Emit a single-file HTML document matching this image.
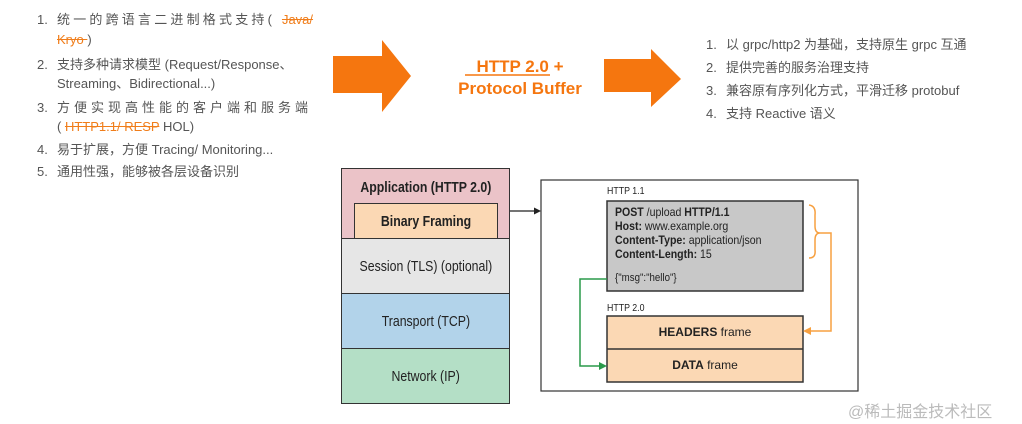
<!DOCTYPE html><html><head><meta charset="utf-8"><style>
body{margin:0;width:1022px;height:424px;background:#fff;position:relative;overflow:hidden;font-family:"Liberation Sans","Noto Sans CJK SC",sans-serif}
.t{position:absolute;font-size:13px;color:#555;white-space:nowrap;line-height:16px}
.o{color:#f07d1a;text-decoration:line-through}
.n{position:absolute;font-size:13px;color:#555}
.l{position:absolute;left:341px;width:169px;border:1.5px solid #333;box-sizing:border-box;display:flex;align-items:center;justify-content:center;font-size:15px;color:#222;white-space:nowrap}
.l span{display:inline-block;transform:scaleX(0.82)}
.s{position:absolute;color:#222;white-space:nowrap;transform-origin:0 0;transform:scaleX(0.88)}
</style></head><body>
<div class="n" style="left:37px;top:12px">1.</div><div class="t" style="left:57px;top:12px;letter-spacing:3.2px">统一的跨语言二进制格式支持( <span class="o" style="letter-spacing:0">Java/</span></div>
<div class="t" style="left:57px;top:32px"><span class="o">Kryo </span>)</div>
<div class="n" style="left:37px;top:57px">2.</div><div class="t" style="left:57px;top:57px">支持多种请求模型 (Request/Response、</div>
<div class="t" style="left:57px;top:76px">Streaming、Bidirectional...)</div>
<div class="n" style="left:37px;top:100px">3.</div><div class="t" style="left:57px;top:100px;letter-spacing:4px">方便实现高性能的客户端和服务端</div>
<div class="t" style="left:57px;top:119px">( <span class="o">HTTP1.1/ RESP</span> HOL)</div>
<div class="n" style="left:37px;top:142px">4.</div><div class="t" style="left:57px;top:142px">易于扩展，方便 Tracing/ Monitoring...</div>
<div class="n" style="left:37px;top:164px">5.</div><div class="t" style="left:57px;top:164px">通用性强，能够被各层设备识别</div>

<svg style="position:absolute;left:0;top:0" width="1022" height="424">
<polygon points="333,56 382,56 382,40 411,76 382,112 382,93 333,93" fill="#f5760f"/>
<polygon points="604,59 651,59 651,49 681,79 651,107 651,92 604,92" fill="#f5760f"/>
<line x1="465" y1="75" x2="550" y2="75" stroke="#f5760f" stroke-width="1.5"/>
<rect x="541" y="180" width="317" height="211" fill="none" stroke="#333" stroke-width="1.2"/>
<line x1="510" y1="211" x2="535" y2="211" stroke="#222" stroke-width="1.2"/>
<polygon points="541,211 534,207.5 534,214.5" fill="#222"/>
<rect x="607" y="201" width="196" height="90" fill="#c8c8c8" stroke="#333" stroke-width="1.5"/>
<rect x="607" y="316" width="196" height="66" fill="#fbd8b4" stroke="#333" stroke-width="1.5"/>
<line x1="607" y1="349" x2="803" y2="349" stroke="#333" stroke-width="1.5"/>
<path d="M809,205 Q816,206 815,215 L815,226 Q815,233 820,233 Q815,233 815,240 L815,250 Q816,258 809,258" fill="none" stroke="#f7a040" stroke-width="1.5"/>
<polyline points="820,233 831,233 831,331 810,331" fill="none" stroke="#f7a040" stroke-width="1.5"/>
<polygon points="803,331 811,327 811,335" fill="#f7a040"/>
<polyline points="607,279 580,279 580,366 600,366" fill="none" stroke="#2a9a4a" stroke-width="1.5"/>
<polygon points="607,366 599,362 599,370" fill="#2a9a4a"/>
</svg>
<div style="position:absolute;left:440px;top:56px;width:160px;text-align:center;color:#f5760f;font-weight:bold;font-size:17px;line-height:22px">HTTP 2.0 +<br>Protocol Buffer</div>

<div class="n" style="left:706px;top:37px">1.</div><div class="t" style="left:726px;top:37px">以 grpc/http2 为基础，支持原生 grpc 互通</div>
<div class="n" style="left:706px;top:60px">2.</div><div class="t" style="left:726px;top:60px">提供完善的服务治理支持</div>
<div class="n" style="left:706px;top:83px">3.</div><div class="t" style="left:726px;top:83px">兼容原有序列化方式，平滑迁移 protobuf</div>
<div class="n" style="left:706px;top:106px">4.</div><div class="t" style="left:726px;top:106px">支持 Reactive 语义</div>

<div class="l" style="top:168px;height:71px;background:#ebc3c8;align-items:flex-start;padding-top:10px;font-weight:bold"><span>Application (HTTP 2.0)</span></div>
<div class="l" style="left:354px;width:144px;top:203px;height:36px;background:#fbd8b4;font-weight:bold"><span>Binary Framing</span></div>
<div class="l" style="top:238px;height:56px;background:#e6e6e6"><span>Session (TLS) (optional)</span></div>
<div class="l" style="top:293px;height:56px;background:#b2d3ea"><span>Transport (TCP)</span></div>
<div class="l" style="top:348px;height:56px;background:#b4dfc6"><span>Network (IP)</span></div>

<div class="s" style="left:607px;top:186px;font-size:10px">HTTP 1.1</div>
<div class="s" style="left:615px;top:205px;font-size:12px;line-height:14px"><b>POST</b> /upload <b>HTTP/1.1</b><br><b>Host:</b> www.example.org<br><b>Content-Type:</b> application/json<br><b>Content-Length:</b> 15</div>
<div class="s" style="left:615px;top:272px;font-size:11px">{"msg":"hello"}</div>
<div class="s" style="left:607px;top:303px;font-size:10px">HTTP 2.0</div>
<div style="position:absolute;left:607px;top:325px;width:196px;text-align:center;font-size:12px;color:#222"><b>HEADERS</b> frame</div>
<div style="position:absolute;left:607px;top:358px;width:196px;text-align:center;font-size:12px;color:#222"><b>DATA</b> frame</div>
<div style="position:absolute;left:848px;top:398px;font-size:16px;color:#bbb">@稀土掘金技术社区</div>
</body></html>
